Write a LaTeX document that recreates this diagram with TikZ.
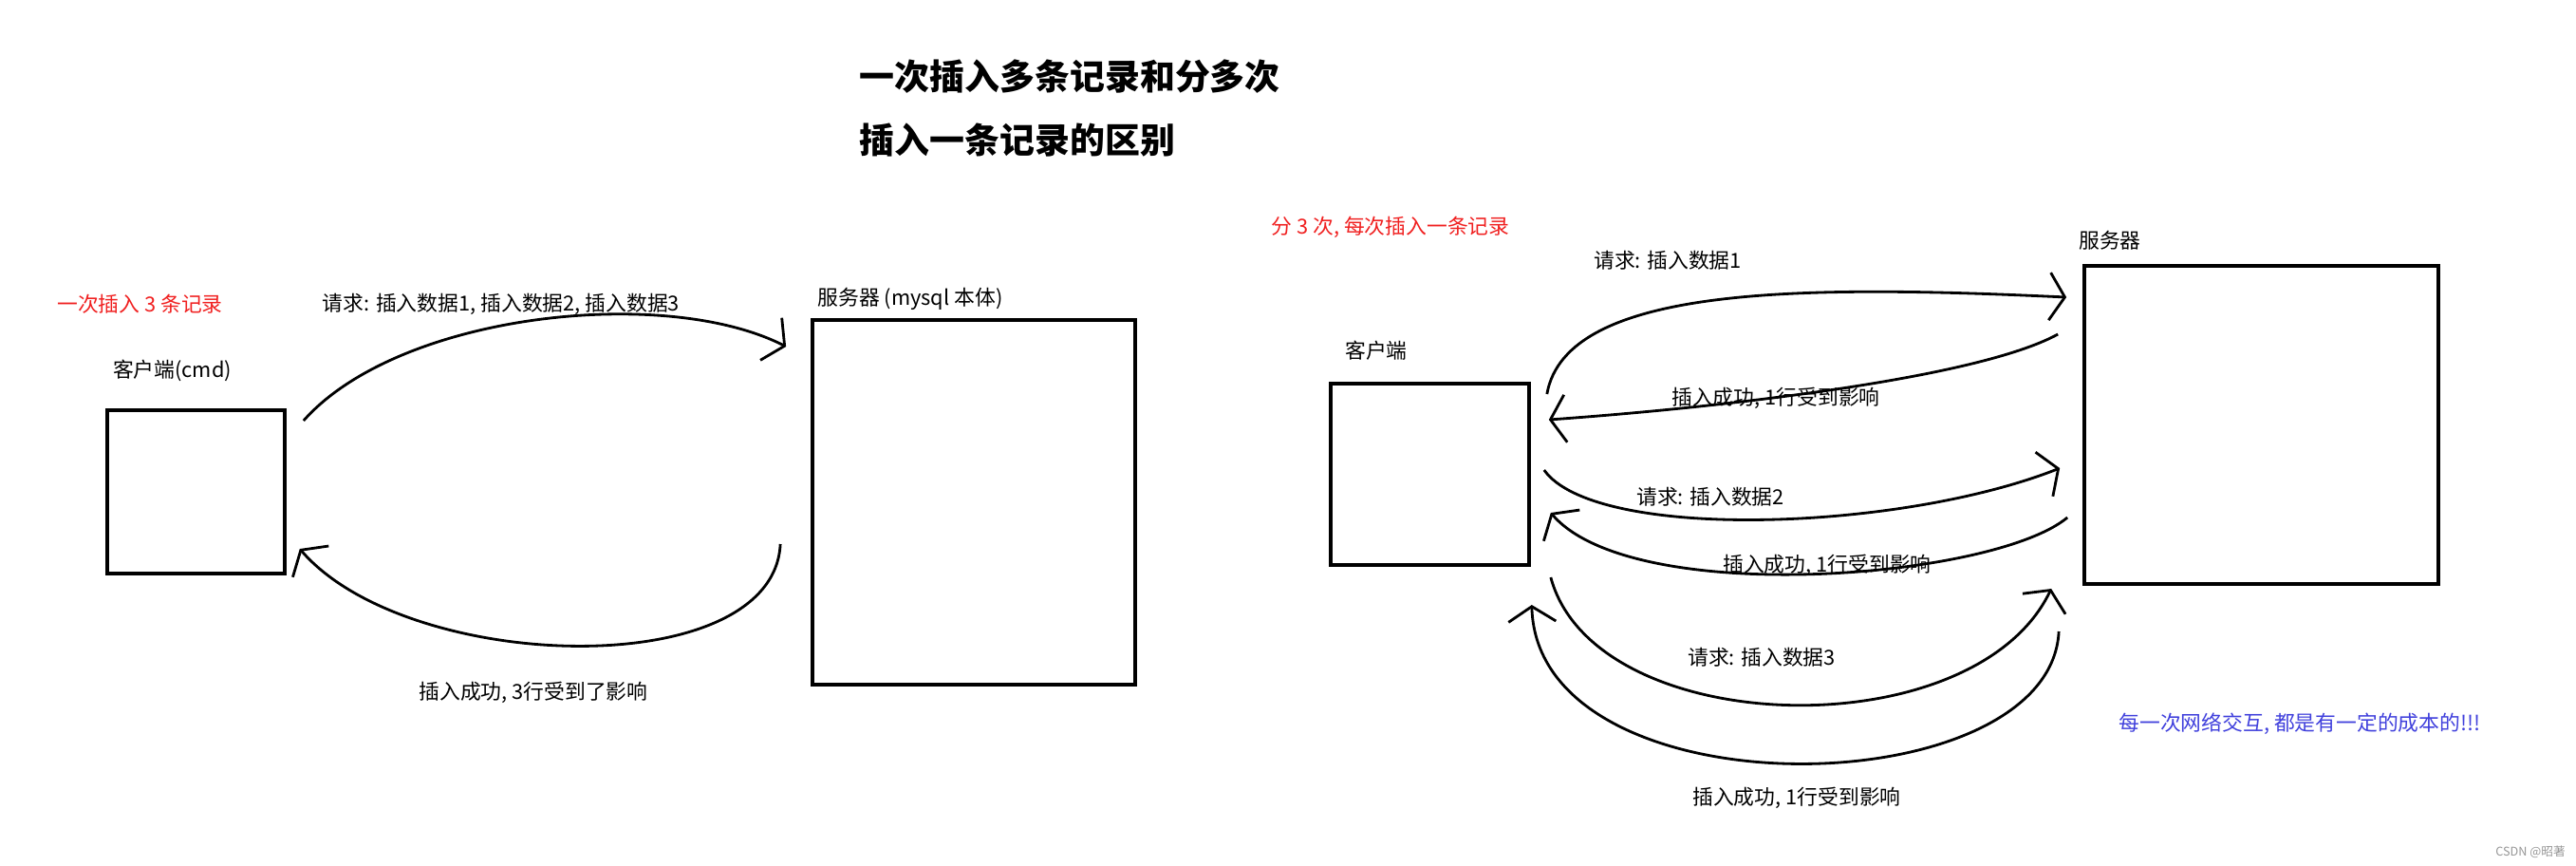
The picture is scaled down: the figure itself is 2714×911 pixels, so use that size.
\documentclass[tikz,border=0pt]{standalone}
\usepackage{fontspec}
\usepackage{xcolor}
\usepackage{tikz}
\usetikzlibrary{positioning,arrows.meta,calc}
\newfontfamily\cjk{Noto Sans CJK SC}
\definecolor{notered}{RGB}{240,32,32}
\definecolor{noteblue}{RGB}{64,64,220}
\definecolor{markgray}{RGB}{150,150,150}

\begin{document}
\begin{tikzpicture}[x=0.01cm,y=-0.01cm,
        box/.style={draw,line width=1pt,inner sep=0pt},
        lbl/.style={font=\cjk\fontsize{6.2}{7}\selectfont,inner sep=0pt},
        title/.style={font=\cjk\bfseries\fontsize{10.5}{12}\selectfont,inner sep=0pt,anchor=west},
        flow/.style={line width=0.8pt,-{Straight Barb[length=1.6mm,width=5mm,line width=0.8pt]}}]
      \useasboundingbox (0,0) rectangle (2714,911);
      %% titles
      \node[title] (t_1) at (905,81) {一次插入多条记录和分多次};
      \node[title] (t_2) at (905,147) {插入一条记录的区别};
      %% left: one request for three rows
      \node[box,minimum width=1.87cm,minimum height=1.72cm] (cli) at (206.5,518) {};
      \node[box,minimum width=3.40cm,minimum height=3.84cm] (srv) at (1026,529) {};
      \node[lbl,text=notered] (n_1) at (147.5,320) {一次插入 3 条记录};
      \node[lbl] (cli_l) at (181.5,390) {客户端(cmd)};
      \node[lbl] (srv_l) at (959,315) {服务器 (mysql 本体)};
      \node[lbl] (req_l) at (528,320) {请求: 插入数据1, 插入数据2, 插入数据3};
      \node[lbl] (rsp_l) at (562,729) {插入成功, 3行受到了影响};
      \draw[flow] ([shift={(18,-75)}]cli.east) .. controls (420,330) and (700,300) .. ([shift={(-26,-164)}]srv.west);
      \draw[flow] ([shift={(-32,44)}]srv.west) .. controls (815,720) and (430,710) .. ([shift={(14,60)}]cli.east);
      %% right: three requests, one row each
      \node[box,minimum width=2.09cm,minimum height=1.91cm] (cli2) at (1506.5,499.5) {};
      \node[box,minimum width=3.73cm,minimum height=3.35cm] (srv2) at (2382.5,447.5) {};
      \node[lbl,text=notered] (n_2) at (1465,239) {分 3 次, 每次插入一条记录};
      \node[lbl] (cli2_l) at (1450,369) {客户端};
      \node[lbl] (srv2_l) at (2223,253) {服务器};
      \node[lbl] (req_1) at (1757,274) {请求: 插入数据1};
      \node[lbl] (rsp_1) at (1871,419) {插入成功, 1行受到影响};
      \node[lbl] (req_2) at (1802,523) {请求: 插入数据2};
      \node[lbl] (rsp_2) at (1925,595) {插入成功, 1行受到影响};
      \node[lbl] (req_3) at (1856,692) {请求: 插入数据3};
      \node[lbl] (rsp_3) at (1893,840) {插入成功, 1行受到影响};
      \draw[flow] ([shift={(17,-84.5)}]cli2.east) .. controls (1650,300) and (1900,300) .. ([shift={(-17,-134.5)}]srv2.west);
      \draw[flow] ([shift={(-26,-95.5)}]srv2.west) .. controls (2080,400) and (1800,430) .. ([shift={(19,-57.5)}]cli2.east);
      \draw[flow] ([shift={(14,-4.5)}]cli2.east) .. controls (1680,570) and (2000,560) .. ([shift={(-24,45.5)}]srv2.west);
      \draw[flow] ([shift={(-16,97.5)}]srv2.west) .. controls (2100,610) and (1720,640) .. ([shift={(21,40.5)}]cli2.east);
      \draw[flow] ([shift={(21,108.5)}]cli2.east) .. controls (1680,780) and (2080,790) .. ([shift={(-33,172.5)}]srv2.west);
      \draw[flow] ([shift={(-25,217.5)}]srv2.west) .. controls (2160,850) and (1620,860) .. ([shift={(1,137.5)}]cli2.east);
      \node[lbl,text=noteblue] (n_3) at (2423,762) {每一次网络交互, 都是有一定的成本的!!!};
      \node[lbl,text=markgray,font=\cjk\fontsize{3.6}{4}\selectfont] (mark) at (2666,897) {CSDN @昭著};
    \end{tikzpicture}
\end{document}
